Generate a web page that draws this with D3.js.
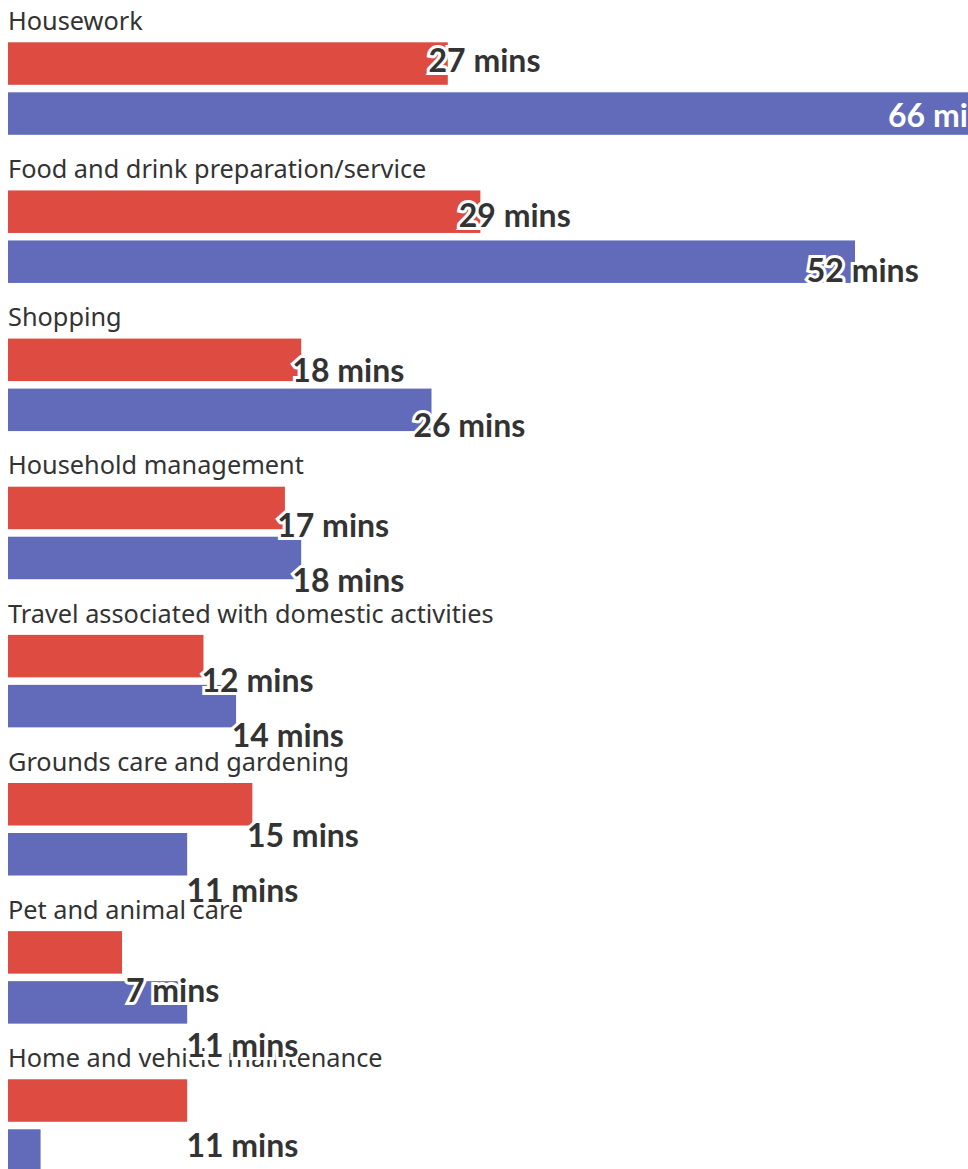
<!DOCTYPE html>
<html>
<head>
<meta charset="utf-8">
<script src="https://cdn.jsdelivr.net/npm/d3@7"></script>
<style>
  html, body { margin: 0; padding: 0; background: #fff; }
  svg { display: block; }
</style>
</head>
<body>
<div id="chart"></div>
<script>
const categories = [
  "Housework",
  "Food and drink preparation/service",
  "Shopping",
  "Household management",
  "Travel associated with domestic activities",
  "Grounds care and gardening",
  "Pet and animal care",
  "Home and vehicle maintenance"
];
const series = ["men", "women"];
const menValues   = [27, 29, 18, 17, 12, 15, 7, 11];
const womenValues = [66, 52, 26, 18, 14, 11, 11, 2];
const unitLabel = "mins";

const colors = { men: "#dd4b41", women: "#626bba" };

const W = 968, H = 1169;
const svg = d3.select("#chart").append("svg")
  .attr("width", W).attr("height", H)
  .attr("viewBox", `0 0 ${W} ${H}`);

const rows = categories.map((c, i) => ({
  category: c, index: i,
  values: [
    { key: "men", value: menValues[i] },
    { key: "women", value: womenValues[i] }
  ]
}));

// bar scales
const x = d3.scaleLinear().domain([0, 52]).range([8, 855]);
const yGroup = d3.scaleBand().domain(categories).range([0, 8 * 148.14]);
const yInner = d3.scaleBand().domain(series).range([42.3, 134.8]).paddingInner(0.15);

// label scales (labels sit on their own, slightly different grid)
const xLabel = d3.scaleLinear().domain([0, 66]).range([20, 1018.6]);
const labelMaxX = 888;
const yLabelGroup = d3.scaleLinear().domain([0, 7]).range([72.3, 1157.3]);
const yLabelInner = d3.scaleOrdinal().domain(series).range([0, 55]);

const g = svg.append("g");

const groups = g.selectAll("g.row").data(rows).join("g")
  .attr("class", "row")
  .attr("transform", d => `translate(0,${yGroup(d.category)})`);

groups.append("text")
  .attr("x", 8)
  .attr("y", 30)
  .attr("fill", "#333")
  .style("font-family", "'Noto Sans', sans-serif")
  .style("font-size", "25.3px")
  .text(d => d.category);

groups.selectAll("rect").data(d => d.values).join("rect")
  .attr("x", x(0))
  .attr("y", d => yInner(d.key))
  .attr("width", d => Math.max(0, x(d.value) - x(0)))
  .attr("height", yInner.bandwidth())
  .attr("fill", d => colors[d.key]);

// value labels
const labels = [];
rows.forEach(r => r.values.forEach(v => labels.push({ ...v, index: r.index })));

g.selectAll("text.val").data(labels).join("text")
  .attr("class", "val")
  .attr("x", d => Math.min(xLabel(d.value), labelMaxX))
  .attr("y", d => yLabelGroup(d.index) + yLabelInner(d.key))
  .style("font-family", "Lato, sans-serif")
  .style("font-size", "32px")
  .style("font-weight", "700")
  .style("paint-order", "stroke")
  .attr("stroke-width", 6)
  .attr("stroke-linejoin", "miter")
  .attr("fill", d => xLabel(d.value) > labelMaxX ? "#fff" : "#333")
  .attr("stroke", d => xLabel(d.value) > labelMaxX ? colors[d.key] : "#fff")
  .text(d => `${d.value} ${unitLabel}`);
</script>
</body>
</html>
